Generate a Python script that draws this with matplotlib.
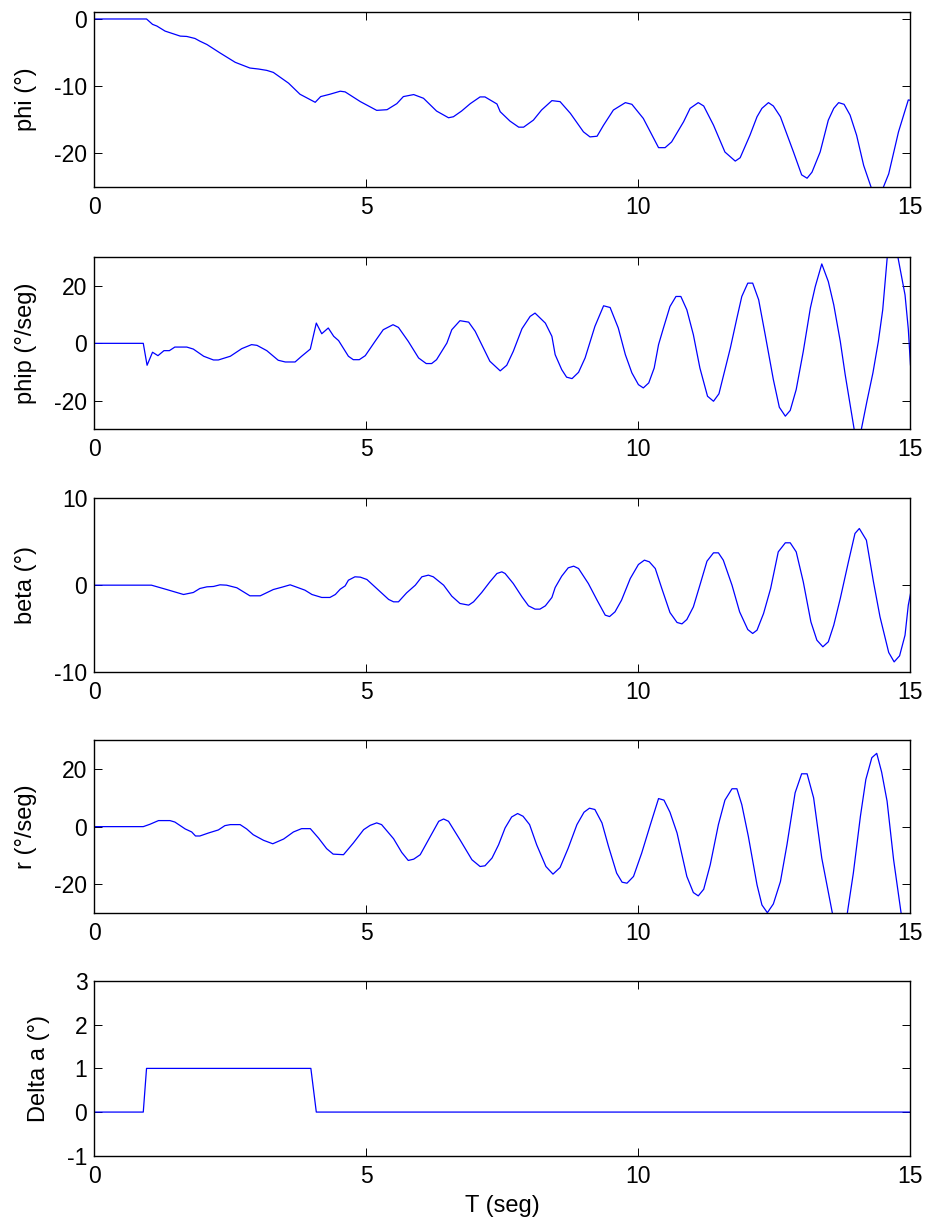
import matplotlib
matplotlib.use("Agg")
import matplotlib.pyplot as plt

plt.rcParams['font.family'] = ['Liberation Sans', 'DejaVu Sans']
plt.rcParams['axes.unicode_minus'] = False

# Time histories of the lateral response (time in s)
phi_t = [0, 0.96, 1.07, 1.15, 1.30, 1.58, 1.70, 1.85, 1.94, 2.07, 2.31, 2.59, 2.86, 3.02,
         3.17, 3.29, 3.57, 3.78, 4.06, 4.16, 4.33, 4.52, 4.61, 4.89, 5.19, 5.38, 5.56, 5.68,
         5.87, 6.05, 6.29, 6.51, 6.60, 6.75, 6.91, 7.09, 7.18, 7.40, 7.46, 7.64, 7.80, 7.89,
         8.07, 8.22, 8.41, 8.56, 8.75, 8.99, 9.11, 9.24, 9.36, 9.54, 9.76, 9.88, 10.09, 10.37,
         10.49, 10.61, 10.83, 10.95, 11.10, 11.20, 11.38, 11.59, 11.78, 11.87, 12.05, 12.18,
         12.27, 12.39, 12.48, 12.61, 12.85, 13.00, 13.10, 13.19, 13.34, 13.49, 13.59, 13.68,
         13.78, 13.89, 14.01, 14.14, 14.38, 14.60, 14.78, 14.96, 15.0]
phi_v = [0, 0, -0.8, -1.05, -1.8, -2.55, -2.6, -2.9, -3.3, -3.8, -5.05, -6.45, -7.3, -7.45,
         -7.65, -7.95, -9.55, -11.2, -12.4, -11.55, -11.2, -10.75, -10.85, -12.3, -13.6, -13.5,
         -12.6, -11.55, -11.25, -11.8, -13.7, -14.7, -14.55, -13.7, -12.6, -11.6, -11.6, -12.65,
         -13.8, -15.2, -16.1, -16.1, -15.05, -13.55, -12.15, -12.3, -14.05, -16.8, -17.55, -17.45,
         -15.8, -13.55, -12.45, -12.7, -14.8, -19.15, -19.15, -18.3, -15.3, -13.3, -12.45, -12.95,
         -15.8, -19.8, -21.15, -20.65, -17.3, -14.55, -13.3, -12.45, -12.95, -14.55, -19.8, -23.2,
         -23.7, -22.8, -19.8, -15.05, -13.3, -12.45, -12.7, -14.3, -17.3, -21.8, -27.5, -23.05,
         -16.8, -12.05, -12.1]

phip_t = [0, 0.90, 0.97, 1.07, 1.17, 1.28, 1.38, 1.48, 1.70, 1.82, 2.01, 2.19, 2.28, 2.50, 2.71,
          2.89, 2.99, 3.17, 3.38, 3.51, 3.69, 3.81, 3.97, 4.08, 4.18, 4.30, 4.40, 4.49, 4.67, 4.76,
          4.87, 4.98, 5.16, 5.31, 5.49, 5.59, 5.77, 5.96, 6.10, 6.20, 6.29, 6.48, 6.57, 6.72, 6.88,
          7.00, 7.27, 7.46, 7.58, 7.70, 7.86, 8.01, 8.10, 8.29, 8.41, 8.47, 8.59, 8.68, 8.78, 8.90,
          9.02, 9.20, 9.36, 9.48, 9.63, 9.76, 9.88, 10.00, 10.09, 10.19, 10.29, 10.37, 10.46, 10.58,
          10.69, 10.78, 10.89, 11.01, 11.13, 11.27, 11.38, 11.48, 11.56, 11.69, 11.81, 11.90, 12.01,
          12.10, 12.21, 12.33, 12.48, 12.59, 12.70, 12.79, 12.90, 13.03, 13.16, 13.25, 13.37, 13.49,
          13.59, 13.71, 13.80, 14.00, 14.06, 14.20, 14.31, 14.41, 14.49, 14.60, 14.74, 14.90, 14.96,
          15.0]
phip_v = [0, 0, -7.65, -3.1, -4.3, -2.55, -2.55, -1.3, -1.3, -2.0, -4.5, -5.8, -5.8, -4.5, -1.85,
          -0.45, -0.7, -2.55, -5.9, -6.5, -6.5, -4.5, -2.0, 7.07, 3.35, 5.35, 2.45, 0.95, -4.5, -5.7,
          -5.7, -4.3, 0.7, 4.75, 6.5, 5.55, 0.7, -5.1, -7.05, -7.05, -5.7, 0.1, 4.75, 7.9, 7.4,
          4.2, -6.25, -9.6, -7.65, -2.8, 5.1, 9.4, 10.55, 7.05, 2.45, -3.95, -9.15, -11.8, -12.3, -10.1,
          -5.1, 5.9, 13.1, 12.5, 5.35, -3.95, -10.3, -14.4, -15.55, -13.8, -8.6, -0.45, 5.35, 12.85,
          16.35, 16.35, 11.7, 3.0, -8.6, -18.45, -20.2, -17.6, -11.5, -1.6, 8.8, 16.35, 21.0,
          21.0, 15.2, 3.0, -12.65, -22.3, -25.4, -23.4, -16.1, -2.8, 12.3, 19.8, 27.7, 21.55,
          13.45, 0.7, -10.9, -34.0, -33.5, -20.2, -10.3, 0.7, 11.7, 36.0, 33.0, 16.9, 5.0,
          -7.5]

beta_t = [0, 1.05, 1.33, 1.64, 1.82, 1.94, 2.07, 2.19, 2.31, 2.43, 2.62, 2.86, 3.05, 3.29, 3.45,
          3.60, 3.72, 3.87, 4.00, 4.18, 4.33, 4.43, 4.52, 4.61, 4.67, 4.79, 4.89, 5.01, 5.19, 5.41,
          5.50, 5.59, 5.74, 5.90, 6.02, 6.14, 6.23, 6.42, 6.57, 6.72, 6.88, 6.97, 7.12, 7.27, 7.40,
          7.49, 7.55, 7.70, 7.86, 7.98, 8.10, 8.19, 8.29, 8.41, 8.47, 8.59, 8.71, 8.81, 8.90, 9.08,
          9.24, 9.39, 9.47, 9.57, 9.69, 9.85, 10.00, 10.11, 10.20, 10.31, 10.43, 10.58, 10.71, 10.80,
          10.89, 11.01, 11.13, 11.26, 11.38, 11.47, 11.56, 11.72, 11.86, 12.01, 12.10, 12.18, 12.30,
          12.43, 12.57, 12.70, 12.79, 12.90, 13.03, 13.17, 13.28, 13.39, 13.49, 13.59, 13.71, 13.86,
          13.98, 14.06, 14.19, 14.32, 14.44, 14.60, 14.70, 14.80, 14.90, 14.96, 15.0]
beta_v = [0, 0, -0.5, -1.07, -0.84, -0.38, -0.19, -0.15, 0.04, 0, -0.3, -1.22, -1.22, -0.5, -0.23,
          0.04, -0.23, -0.57, -1.07, -1.41, -1.41, -1.07, -0.46, -0.08, 0.57, 0.96, 0.92, 0.65, -0.38,
          -1.64, -1.91, -1.91, -0.88, 0, 0.96, 1.15, 0.96, 0, -1.26, -2.1, -2.29, -1.91, -0.84, 0.38,
          1.34, 1.53, 1.34, 0.19, -1.34, -2.37, -2.75, -2.75, -2.37, -1.41, -0.27, 1.03, 1.99, 2.18,
          1.91, 0.19, -1.72, -3.44, -3.6, -3.06, -1.72, 0.76, 2.37, 2.87, 2.68, 1.91, -0.38, -3.14,
          -4.28, -4.44, -3.94, -2.49, 0, 2.75, 3.71, 3.71, 2.87, 0, -3.06, -5.09, -5.54, -5.16, -3.25,
          -0.38, 3.82, 4.86, 4.86, 3.82, 0.38, -4.21, -6.31, -7.07, -6.5, -4.59, -1.53, 2.68, 5.93,
          6.5, 5.16, 0.38, -3.63, -7.72, -8.8, -8.1, -5.74, -2.29, -1.0]

r_t = [0, 0.90, 1.02, 1.18, 1.39, 1.48, 1.67, 1.79, 1.86, 1.94, 2.10, 2.28, 2.40, 2.50, 2.68, 2.80,
       2.92, 3.11, 3.28, 3.48, 3.66, 3.81, 3.97, 4.12, 4.27, 4.39, 4.58, 4.76, 4.95, 5.07, 5.19,
       5.28, 5.50, 5.65, 5.77, 5.87, 5.99, 6.17, 6.33, 6.42, 6.51, 6.72, 6.94, 7.09, 7.18, 7.31,
       7.43, 7.55, 7.67, 7.78, 7.88, 8.00, 8.13, 8.30, 8.43, 8.56, 8.71, 8.87, 9.00, 9.10, 9.20,
       9.33, 9.45, 9.60, 9.70, 9.79, 9.91, 10.06, 10.22, 10.37, 10.47, 10.58, 10.71, 10.89, 11.01,
       11.10, 11.20, 11.32, 11.47, 11.59, 11.72, 11.81, 11.90, 12.02, 12.18, 12.27, 12.37, 12.48,
       12.61, 12.73, 12.88, 13.00, 13.10, 13.22, 13.37, 13.62, 13.80, 13.95, 14.08, 14.18, 14.29,
       14.38, 14.47, 14.57, 14.69, 14.85, 15.0]
r_v = [0, 0, 0.8, 2.1, 2.1, 1.6, -0.8, -1.85, -3.25, -3.25, -2.2, -1.15, 0.35, 0.7, 0.7, -0.8,
       -2.8, -4.75, -5.95, -4.3, -1.85, -0.7, -0.7, -3.95, -7.65, -9.55, -9.75, -5.7, -1.05, 0.45,
       1.3, 0.7, -4.2, -8.95, -11.75, -11.3, -9.75, -3.6, 1.85, 2.65, 1.85, -4.55, -11.5, -13.85,
       -13.6, -10.9, -6.3, -0.45, 3.35, 4.55, 3.6, 0.7, -6.3, -13.85, -16.5, -14.2, -7.45, 0.7, 5.0,
       6.4, 5.95, 1.3, -6.85, -16.15, -19.3, -19.65, -17.3, -9.2, 0.7, 9.75, 9.2, 5.0, -2.2, -17.3,
       -22.9, -24.05, -21.75, -13.25, 0.7, 9.2, 13.15, 13.15, 7.65, -3.35, -20.25, -27.2, -29.9,
       -26.85, -19.1, -6.3, 11.75, 18.35, 18.35, 10.0, -10.95, -35.5, -35.0, -16.15, 3.6, 16.4,
       23.95, 25.45, 18.95, 8.85, -11.5, -33.0, -37.0]

# Aileron input
da_t = [0, 0.90, 0.96, 3.98, 4.08, 15.0]
da_v = [0, 0, 1, 1, 0, 0]

series = [(phi_t, phi_v), (phip_t, phip_v), (beta_t, beta_v), (r_t, r_v), (da_t, da_v)]
ylabels = ['phi (°)', 'phip (°/seg)', 'beta (°)', 'r (°/seg)', 'Delta a (°)']
ylims = [(-25, 1), (-30, 30), (-10, 10), (-30, 30), (-1, 3)]
yticks = [[-20, -10, 0], [-20, 0, 20], [-10, 0, 10], [-20, 0, 20], [-1, 0, 1, 2, 3]]
xticks = [0, 5, 10, 15]

fig = plt.figure(figsize=(9.3, 12.26), dpi=100)
left, width = 0.1014, 0.8776
bottoms = [0.8475, 0.6498, 0.4516, 0.2553, 0.0573]
heights = [0.1425, 0.1403, 0.1422, 0.1409, 0.1425]
label_x = [-0.0706, -0.0706, -0.0706, -0.0706, -0.0543]

for i, ((t, v), lab, yl, yt) in enumerate(zip(series, ylabels, ylims, yticks)):
    ax = fig.add_axes([left, bottoms[i], width, heights[i]])
    ax.plot(t, v, color='#0000ff', lw=0.9)
    ax.set_xlim(0, 15)
    ax.set_ylim(*yl)
    ax.set_xticks(xticks)
    ax.set_yticks(yt)
    ax.tick_params(direction='in', top=True, right=True, length=5.8, width=0.7,
                   labelsize=16.5, colors='black')
    ax.tick_params(axis='x', pad=6.5)
    ax.tick_params(axis='y', pad=5)
    for sp in ax.spines.values():
        sp.set_linewidth(1.0)
        sp.set_color('black')
    ax.set_ylabel(lab, fontsize=17)
    ax.yaxis.set_label_coords(label_x[i], 0.5)
    if i == 4:
        ax.set_xlabel('T (seg)', fontsize=17)
        ax.xaxis.set_label_coords(0.5, -0.225)

fig.savefig('out.png', dpi=100)
